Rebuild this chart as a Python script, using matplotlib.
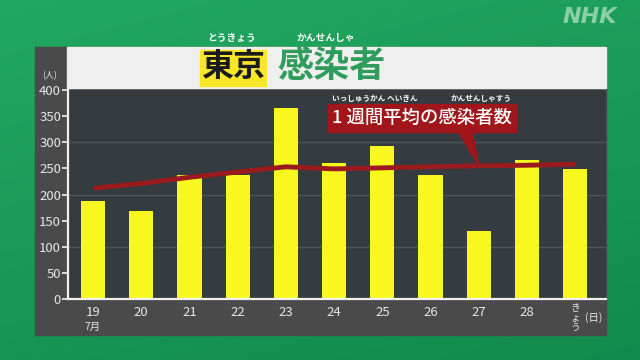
import numpy as np
import matplotlib
matplotlib.use('Agg')
import matplotlib.pyplot as plt
from matplotlib.patches import Rectangle, Polygon

plt.rcParams['font.family'] = ['Noto Sans CJK JP', 'DejaVu Sans']

days = ['19', '20', '21', '22', '23', '24', '25', '26', '27', '28', 'きょう']
cases = [187, 168, 237, 237, 365, 260, 293, 237, 130, 266, 249]
weekly_avg = [212, 221, 233, 243, 253, 249, 251, 253, 255, 256, 258]
yticks = [0, 50, 100, 150, 200, 250, 300, 350, 400]

W, H = 640, 360

def fx(px):
	return px / W

def fy(py):
	return 1 - py / H

fig = plt.figure(figsize=(6.4, 3.6), dpi=100)

# green background
bg = fig.add_axes([0, 0, 1, 1], zorder=-10)
gx = np.linspace(0, 1, 200)
gy = np.linspace(0, 1, 120)
GX, GY = np.meshgrid(gx, gy)
t = 0.55 * GY + 0.25 * GX
c0 = np.array([0x22, 0xA8, 0x60]) / 255
c1 = np.array([0x0C, 0x84, 0x48]) / 255
img = c0[None, None, :] * (1 - t[..., None]) + c1[None, None, :] * t[..., None]
bg.imshow(img, aspect='auto', extent=[0, 1, 0, 1], origin='upper')
bg.set_xlim(0, 1)
bg.set_ylim(0, 1)
bg.axis('off')

# dark panel and title band
bg.add_patch(Rectangle((fx(35), fy(335)), fx(606) - fx(35), fy(47) - fy(335), color='#4a4a4a'))
bg.add_patch(Rectangle((fx(67), fy(88)), fx(606) - fx(67), fy(47) - fy(88), color='#efefef'))
bg.add_patch(Rectangle((fx(200), fy(86)), fx(266) - fx(200), fy(50) - fy(86), color='#f7e62a'))

fig.text(fx(233), fy(67), '東京', fontsize=23, fontweight='bold', color='#1a1a1a', ha='center', va='center')
fig.text(fx(331), fy(67), '感染者', fontsize=26, fontweight='bold', color='#2f9c5c', ha='center', va='center')
fig.text(fx(232), fy(38), 'とうきょう', fontsize=7, fontweight='bold', color='white', ha='center', va='center')
fig.text(fx(326), fy(38), 'かんせんしゃ', fontsize=7, fontweight='bold', color='white', ha='center', va='center')
fig.text(fx(590), fy(17), 'NHK', fontsize=16, fontweight='bold', fontstyle='italic', family='DejaVu Sans',
	color='#a8dcbc', alpha=0.8, ha='center', va='center')

# main chart
ax = fig.add_axes([fx(68), fy(299), fx(606) - fx(68), fy(90) - fy(299)])
ax.set_facecolor('#343c42')
x = np.arange(len(days))
ax.bar(x, cases, width=0.5, color='#f8f81e', zorder=2)
ax.plot(x, weekly_avg, color='#9a1a1e', lw=3.5, zorder=3, solid_capstyle='butt')
ax.set_xlim(-0.52, 10.64)
ax.set_ylim(0, 400)
for g in [100, 200, 300]:
	ax.axhline(g, color='#4c555b', lw=1, zorder=1)
ax.set_yticks(yticks)
ax.set_yticklabels([str(v) for v in yticks], color='#e6e6e6', fontsize=9.5)
ax.set_xticks(x)
ax.set_xticklabels(days[:-1] + [''], color='#e6e6e6', fontsize=9.5)
ax.tick_params(axis='y', colors='#e6e6e6', length=4, width=1.3, pad=1)
ax.tick_params(axis='x', length=0, pad=5)
for s in ['top', 'right']:
	ax.spines[s].set_visible(False)
for s in ['left', 'bottom']:
	ax.spines[s].set_color('#f0f0f0')
	ax.spines[s].set_linewidth(1.6)

fig.text(fx(93), fy(327), '7月', fontsize=7.5, color='#e6e6e6', ha='center', va='center')
fig.text(fx(575), fy(318), 'き\nょ\nう', fontsize=7, color='#e6e6e6', ha='center', va='center', linespacing=0.95)
fig.text(fx(594), fy(318), '(日)', fontsize=7.5, color='#e6e6e6', ha='center', va='center')
fig.text(fx(50), fy(76), '(人)', fontsize=6.5, color='#e6e6e6', ha='center', va='center')

# callout for weekly average
tip = fig.transFigure.inverted().transform(ax.transData.transform((8, weekly_avg[8])))
box = Rectangle((fx(328), fy(132)), fx(516) - fx(328), fy(104) - fy(132), color='#a0161b',
	transform=fig.transFigure, zorder=5)
fig.add_artist(box)
ptr = Polygon([(fx(458), fy(131)), (fx(472), fy(131)), (tip[0], tip[1])], closed=True, color='#a0161b',
	transform=fig.transFigure, zorder=5)
fig.add_artist(ptr)
fig.text(fx(422), fy(118), '1 週間平均の感染者数', fontsize=13.2, fontweight='medium', color='white',
	ha='center', va='center', zorder=6)
fig.text(fx(375), fy(99), 'いっしゅうかん へいきん', fontsize=5.5, fontweight='bold', color='white',
	ha='center', va='center', zorder=6)
fig.text(fx(481), fy(99), 'かんせんしゃすう', fontsize=5.5, fontweight='bold', color='white',
	ha='center', va='center', zorder=6)

fig.savefig('out.png', dpi=100)
